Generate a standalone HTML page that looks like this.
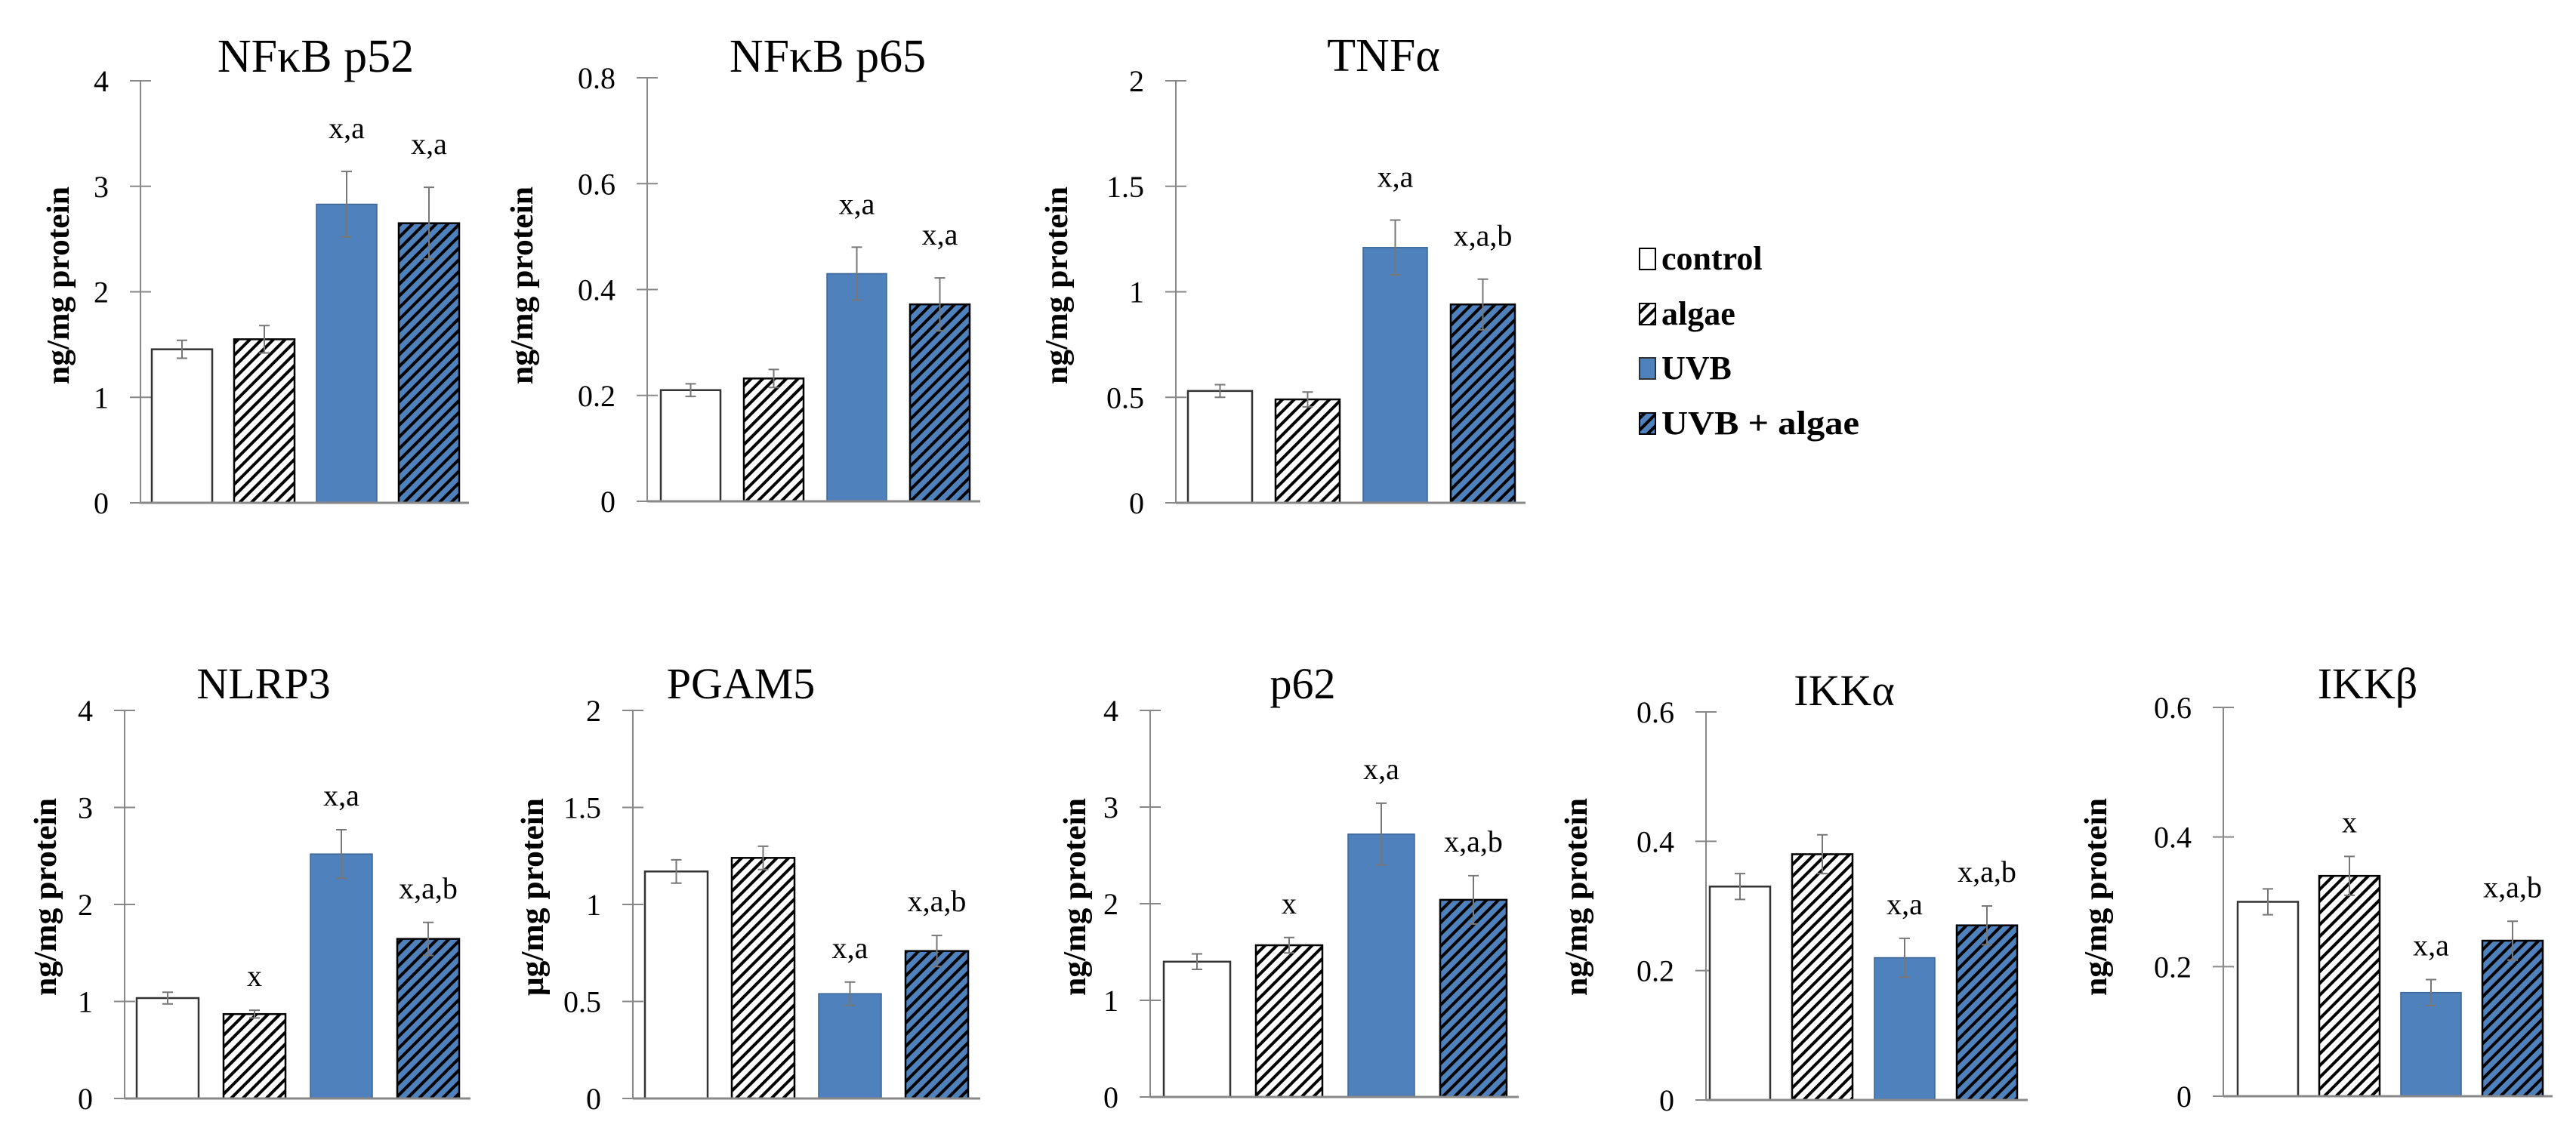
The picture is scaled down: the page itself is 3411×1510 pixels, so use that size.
<!DOCTYPE html>
<html><head><meta charset="utf-8"><style>html,body{margin:0;padding:0;background:#fff}svg{display:block}</style></head>
<body>
<svg id="fig" xmlns="http://www.w3.org/2000/svg" width="3411" height="1510" viewBox="0 0 3411 1510" font-family="'Liberation Serif', serif">
<defs>
<pattern id="hatchW" patternUnits="userSpaceOnUse" width="11" height="11" patternTransform="rotate(45)"><rect width="11" height="11" fill="#fff"/><rect width="4" height="11" fill="#000"/></pattern>
<pattern id="hatchB" patternUnits="userSpaceOnUse" width="11" height="11" patternTransform="rotate(45)"><rect width="11" height="11" fill="#4f81bd"/><rect width="4" height="11" fill="#000"/></pattern>
</defs>
<g font-weight="bold" font-size="44">
<rect x="2171" y="329" width="21" height="28" fill="#fff" stroke="#000" stroke-width="2"/>
<text x="2200" y="357">control</text>
<rect x="2171" y="402" width="21" height="28" fill="url(#hatchW)" stroke="#000" stroke-width="2"/>
<text x="2200" y="430">algae</text>
<rect x="2171" y="474" width="21" height="28" fill="#4f81bd" stroke="#333" stroke-width="2"/>
<text x="2200" y="502">UVB</text>
<rect x="2171" y="547" width="21" height="28" fill="url(#hatchB)" stroke="#000" stroke-width="2"/>
<text x="2200" y="575" textLength="262" lengthAdjust="spacingAndGlyphs">UVB + algae</text>
</g>
</svg>
<script>
// data arrays
const groups = ["control", "algae", "UVB", "UVB + algae"];
const p52Vals = [1.455, 1.55, 2.83, 2.65];
const p52Errs = [0.085, 0.13, 0.31, 0.34];
const p52Notes = ["", "", "x,a", "x,a"];
const p65Vals = [0.21, 0.232, 0.43, 0.372];
const p65Errs = [0.012, 0.017, 0.05, 0.05];
const p65Notes = ["", "", "x,a", "x,a"];
const tnfVals = [0.53, 0.49, 1.21, 0.94];
const tnfErrs = [0.03, 0.035, 0.13, 0.12];
const tnfNotes = ["", "", "x,a", "x,a,b"];
const nlrpVals = [1.035, 0.87, 2.52, 1.645];
const nlrpErrs = [0.06, 0.04, 0.25, 0.17];
const nlrpNotes = ["", "x", "x,a", "x,a,b"];
const pgamVals = [1.17, 1.24, 0.54, 0.76];
const pgamErrs = [0.06, 0.06, 0.06, 0.08];
const pgamNotes = ["", "", "x,a", "x,a,b"];
const p62Vals = [1.4, 1.57, 2.72, 2.04];
const p62Errs = [0.08, 0.08, 0.32, 0.25];
const p62Notes = ["", "x", "x,a", "x,a,b"];
const ikkaVals = [0.33, 0.38, 0.22, 0.27];
const ikkaErrs = [0.02, 0.03, 0.03, 0.03];
const ikkaNotes = ["", "", "x,a", "x,a,b"];
const ikkbVals = [0.30, 0.34, 0.16, 0.24];
const ikkbErrs = [0.02, 0.03, 0.02, 0.03];
const ikkbNotes = ["", "x", "x,a", "x,a,b"];
const ticks4 = [0, 1, 2, 3, 4];
const ticks08 = [0, 0.2, 0.4, 0.6, 0.8];
const ticks2 = [0, 0.5, 1, 1.5, 2];
const ticks06 = [0, 0.2, 0.4, 0.6];
const tickLabels4 = ["0", "1", "2", "3", "4"];
const tickLabels08 = ["0", "0.2", "0.4", "0.6", "0.8"];
const tickLabels2 = ["0", "0.5", "1", "1.5", "2"];
const tickLabels06 = ["0", "0.2", "0.4", "0.6"];

const NS = "http://www.w3.org/2000/svg";
const svg = document.getElementById("fig");
function mk(tag, attrs, parent) {
  const e = document.createElementNS(NS, tag);
  for (const k in attrs) e.setAttribute(k, attrs[k]);
  parent.appendChild(e);
  return e;
}
const fills = ["#fff", "url(#hatchW)", "#4f81bd", "url(#hatchB)"];
const strokes = ["#333", "#000", "#3a6595", "#000"];

const charts = [
  {id:"nfkb-p52", title:"NFκB p52", vals:p52Vals, errs:p52Errs, notes:p52Notes, ticks:ticks4, labels:tickLabels4, max:4, ax:186, axEnd:621, y0:666, yTop:107, b0:201, step:109, bw:80, tx:418, ty:95, ts:62, ylx:77, yly:378, ylab:"ng/mg protein", gap:44},
  {id:"nfkb-p65", title:"NFκB p65", vals:p65Vals, errs:p65Errs, notes:p65Notes, ticks:ticks08, labels:tickLabels08, max:0.8, ax:857, axEnd:1298, y0:664, yTop:103, b0:875, step:110, bw:79, tx:1096, ty:95, ts:62, ylx:691, yly:378, ylab:"ng/mg protein", gap:44},
  {id:"tnfa", title:"TNFα", vals:tnfVals, errs:tnfErrs, notes:tnfNotes, ticks:ticks2, labels:tickLabels2, max:2, ax:1557, axEnd:2020, y0:666, yTop:107, b0:1573, step:116, bw:85, tx:1832, ty:94, ts:62, ylx:1399, yly:378, ylab:"ng/mg protein", gap:44},
  {id:"nlrp3", title:"NLRP3", vals:nlrpVals, errs:nlrpErrs, notes:nlrpNotes, ticks:ticks4, labels:tickLabels4, max:4, ax:165, axEnd:623, y0:1455, yTop:941, b0:181, step:115, bw:82, tx:349, ty:925, ts:58, ylx:60, yly:1188, ylab:"ng/mg protein", gap:32},
  {id:"pgam5", title:"PGAM5", vals:pgamVals, errs:pgamErrs, notes:pgamNotes, ticks:ticks2, labels:tickLabels2, max:2, ax:838, axEnd:1298, y0:1455, yTop:941, b0:854, step:115, bw:83, tx:981, ty:925, ts:58, ylx:705, yly:1188, ylab:"μg/mg protein", gap:32},
  {id:"p62", title:"p62", vals:p62Vals, errs:p62Errs, notes:p62Notes, ticks:ticks4, labels:tickLabels4, max:4, ax:1523, axEnd:2011, y0:1453, yTop:941, b0:1541, step:122, bw:88, tx:1725, ty:925, ts:58, ylx:1423, yly:1188, ylab:"ng/mg protein", gap:32},
  {id:"ikka", title:"IKKα", vals:ikkaVals, errs:ikkaErrs, notes:ikkaNotes, ticks:ticks06, labels:tickLabels06, max:0.6, ax:2259, axEnd:2685, y0:1457, yTop:943, b0:2264, step:109, bw:80, tx:2442, ty:934, ts:58, ylx:2087, yly:1188, ylab:"ng/mg protein", gap:32},
  {id:"ikkb", title:"IKKβ", vals:ikkbVals, errs:ikkbErrs, notes:ikkbNotes, ticks:ticks06, labels:tickLabels06, max:0.6, ax:2944, axEnd:3380, y0:1452, yTop:937, b0:2963, step:108, bw:80, tx:3135, ty:925, ts:58, ylx:2775, yly:1188, ylab:"ng/mg protein", gap:32}
];

charts.forEach(c => {
  const g = mk("g", {}, svg);
  
  
  const yScale = v => c.y0 - (v / c.max) * (c.y0 - c.yTop);
  const xBar = i => c.b0 + i * c.step;
  // title
  const t = mk("text", {x:c.tx, y:c.ty, "font-size":c.ts, "text-anchor":"middle", fill:"#000"}, g);
  t.textContent = c.title;
  
  
  // y label
  const yl = mk("text", {x:0, y:0, "font-size":42, "font-weight":"bold", "text-anchor":"middle", transform:`translate(${c.ylx + 14},${c.yly}) rotate(-90)`, textLength:262, lengthAdjust:"spacingAndGlyphs"}, g);
  yl.textContent = c.ylab;
  
  
  // axis
  const ax = mk("line", {x1:c.ax, y1:c.yTop, x2:c.ax, y2:c.y0, stroke:"#888", "stroke-width":2}, g);
  
  
  c.ticks.forEach((v, i) => {
    const y = yScale(v);
    const tk = mk("line", {x1:c.ax - 14, y1:y, x2:c.ax + 14, y2:y, stroke:"#888", "stroke-width":2}, g);
    
    
    const tl = mk("text", {x:c.ax - 42, y:y + 14, "font-size":40, "text-anchor":"end"}, g);
    tl.textContent = c.labels[i];
    
    
  });
  c.vals.forEach((v, i) => {
    const x = xBar(i), y = yScale(v);
    const b = mk("rect", {x:x, y:y, width:c.bw, height:c.y0 - y, fill:fills[i], stroke:strokes[i], "stroke-width":i === 2 ? 1.5 : 2.5}, g);
    
    
    const cx = x + c.bw / 2, yt = yScale(v + c.errs[i]), yb = yScale(v - c.errs[i]);
    const e = mk("path", {d:`M${cx},${yt}V${yb}M${cx-7},${yt}H${cx+7}M${cx-7},${yb}H${cx+7}`, stroke:"#777", "stroke-width":2, fill:"none"}, g);
    
    
    if (c.notes[i]) {
      const n = mk("text", {x:cx, y:yt - c.gap, "font-size":40, "text-anchor":"middle"}, g);
      n.textContent = c.notes[i];
      
      
    }
  });
  const xa = mk("line", {x1:c.ax, y1:c.y0, x2:c.axEnd, y2:c.y0, stroke:"#888", "stroke-width":3}, g);
  
  
});
</script>
</body></html>
